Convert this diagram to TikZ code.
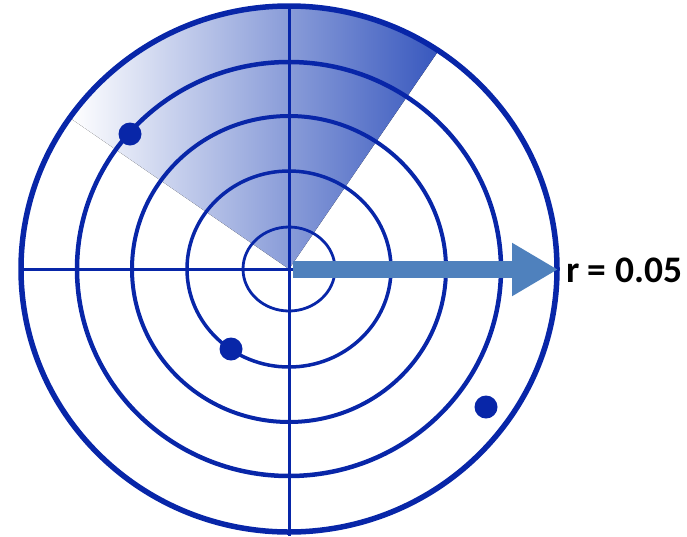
\documentclass[tikz,border=0pt]{standalone}
\usepackage{fontspec}
\newfontfamily\labelfont{Carlito}
\usetikzlibrary{arrows.meta}
\definecolor{ringblue}{RGB}{8,38,168}
\definecolor{sweepblue}{RGB}{56,88,190}
\definecolor{arrowblue}{RGB}{79,129,189}

\begin{document}
\begin{tikzpicture}[x=1pt,y=-1pt,
    ring/.style={draw=ringblue},
    blip/.style={circle,fill=ringblue,inner sep=0pt,minimum size=23pt}]
  \useasboundingbox (0,0) rectangle (687,536);
  \coordinate (O) at (289,269);
  % sweep sector
  \fill[left color=white,right color=sweepblue] (O) -- (71.1,118.7)
    arc[start angle=-145,end angle=-56,x radius=266,y radius=262] -- cycle;
  % rings
  \foreach \rx/\ry/\lw in {268/263/5.5,212/207/4.5,157/153/4,102/98/3.5,46/42/2.8}
    \draw[ring,line width=\lw pt] (O) ellipse[x radius=\rx,y radius=\ry];
  \coordinate (W) at (22,269);
  \coordinate (E) at (556,269);
  \coordinate (N) at (289,6);
  \coordinate (S) at (289,536);
  \draw[ring,line width=3pt] (W) -- (E) (N) -- (S);
  %%
  \node[blip] (B1) at (130,134) {};
  \node[blip] (B2) at (231,349) {};
  \node[blip] (B3) at (486,407) {};
  %%
  \node[anchor=base west,inner sep=0pt] (R) at (566,282)
    {\labelfont\bfseries\fontsize{37.5}{42}\selectfont r = 0.05};
  \coordinate (T) at (558,269.5);
  \draw[arrowblue,line width=17pt,-{Triangle[length=46pt,width=50pt]}]
    ([xshift=4pt,yshift=-0.5pt]O) -- (T);
\end{tikzpicture}
\end{document}
